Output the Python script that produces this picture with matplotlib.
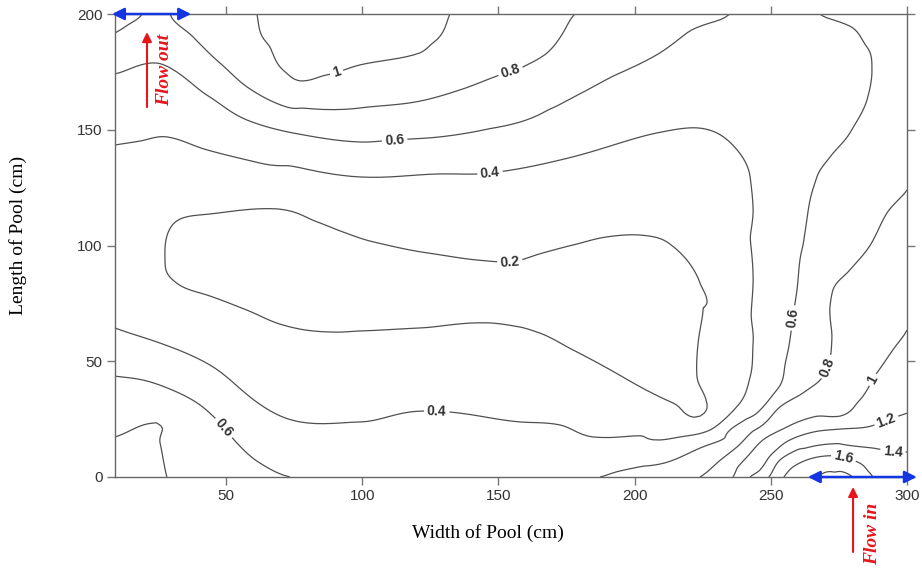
import numpy as np
import matplotlib
matplotlib.use("Agg")
import matplotlib.pyplot as plt
import matplotlib.tri as mtri

# ---------------- data ----------------
# isoline samples (x = width cm, y = length cm) for each velocity level
c02_x = [27.6, 28.7, 34.2, 44.1, 68.7, 73.5, 83.4, 93.0, 102.9, 123.8, 142.2, 154.2, 166.4, 177.4, 189.8,
         202.0, 211.9, 219.2, 224.0, 226.6, 225.1, 223.3, 222.9, 224.0, 214.1, 195.7, 177.4, 165.2, 157.9,
         148.0, 139.6, 121.2, 99.2, 90.7, 77.2, 68.7, 57.7, 44.1, 34.2, 29.4]
c02_y = [95.0, 105.4, 111.9, 113.6, 115.8, 114.9, 110.2, 105.8, 101.9, 96.8, 93.7, 92.9, 96.8, 100.2, 103.7,
         104.5, 101.5, 93.7, 83.8, 75.6, 72.1, 57.9, 43.2, 26.3, 32.0, 43.2, 54.9, 62.2, 64.8,
         66.5, 66.5, 64.4, 63.1, 62.6, 63.9, 66.5, 72.1, 78.2, 82.1, 86.4]

c04_x = [9.25, 18.4, 28.3, 43.0, 62.5, 99.2, 128.5, 146.9, 172.6, 189.8, 208.2, 220.3, 230.2, 237.6, 242.4,
         243.5, 243.5, 243.5, 242.4, 238.7, 231.4, 227.7, 216.7, 209.3, 184.7, 172.6, 157.9, 135.9, 127.4,
         117.5, 99.2, 77.2, 70.9, 58.8, 44.1, 25.7, 9.25]
c04_y = [143.4, 145.1, 146.9, 141.3, 135.6, 129.6, 130.9, 131.3, 136.9, 142.5, 148.6, 150.8, 148.6, 141.3, 129.6,
         115.3, 86.4, 57.9, 43.2, 32.0, 23.3, 20.3, 17.3, 16.0, 17.3, 22.5, 23.8, 27.6, 28.5,
         28.1, 23.8, 23.8, 25.9, 34.6, 48.4, 57.9, 64.4]

c06a_x = [9.25, 24.7, 32.0, 44.1, 57.7, 74.6, 99.2, 112.0, 128.5, 157.9, 184.7, 194.6, 206.7, 219.2, 235.0]
c06a_y = [174.1, 178.8, 174.9, 164.1, 154.2, 148.6, 144.7, 145.6, 146.9, 153.3, 168.5, 174.5, 181.4, 191.8, 200.0]
c06b_x = [267.9, 280.1, 285.3, 287.1, 285.3, 279.0, 271.7, 266.9, 264.4, 262.5, 261.4, 259.6, 258.1, 257.0,
          255.2, 252.2, 244.9, 235.0, 224.0, 209.3, 194.6, 187.3]
c06b_y = [200.0, 194.0, 185.7, 174.5, 162.9, 148.6, 138.2, 129.6, 119.7, 105.4, 98.1, 80.8, 68.7, 59.2,
          48.4, 37.6, 27.6, 20.3, 12.5, 5.6, 2.6, 0.0]
c06c_x = [9.25, 19.5, 32.0, 41.5, 47.8, 54.0, 62.5, 70.9, 73.5]
c06c_y = [43.6, 41.9, 36.7, 30.2, 23.3, 14.7, 6.0, 0.9, 0.0]

c08a_x = [9.25, 13.9, 19.2]
c08a_y = [191.8, 195.2, 200.0]
c08b_x = [29.5, 37.9, 47.8, 57.7, 72.3, 99.2, 117.5, 135.9, 150.6, 159.0, 167.9, 173.7, 178.1]
c08b_y = [200.0, 190.1, 178.8, 168.5, 159.8, 159.4, 161.6, 167.2, 173.7, 177.1, 183.2, 191.8, 200.0]
c08c_x = [300.0, 292.6, 285.3, 279.0, 272.8, 271.7, 272.4, 271.0, 268.1, 261.8, 253.3, 246.0, 237.6, 230.2, 224.0]
c08c_y = [124.0, 114.0, 98.1, 89.4, 80.8, 73.4, 59.2, 48.4, 41.9, 36.3, 30.2, 21.6, 13.0, 6.0, 0.0]
c08d_x = [9.25, 23.2, 24.7, 25.8, 28.3]
c08d_y = [17.3, 23.3, 23.3, 14.7, 0.0]

c10a_x = [61.3, 65.0, 70.9, 77.2, 87.1, 99.2, 121.2, 126.0, 132.2]
c10a_y = [200.0, 187.5, 175.8, 171.1, 173.7, 178.0, 183.2, 187.5, 200.0]
c10b_x = [300.0, 294.8, 288.9, 282.7, 275.4, 265.5, 255.9, 247.1, 241.2, 236.1]
c10b_y = [63.5, 54.9, 44.9, 33.3, 26.3, 25.9, 21.6, 16.0, 8.6, 0.0]

c12_x = [300.0, 292.6, 285.3, 275.4, 265.5, 257.0, 250.8, 246.0, 242.4]
c12_y = [27.6, 24.6, 21.6, 20.7, 19.4, 16.0, 10.4, 3.0, 0.0]
c14_x = [300.0, 294.8, 287.5, 277.9, 268.0, 259.6, 253.3, 249.3]
c14_y = [10.8, 10.8, 12.5, 13.8, 13.8, 11.7, 7.3, 0.0]
c16_x = [254.8, 258.1, 265.5, 274.3, 282.7, 286.4, 287.5]
c16_y = [0.0, 4.3, 8.2, 9.1, 6.0, 1.7, 0.0]
c18_x = [266.9, 270.6, 276.5, 280.1]
c18_y = [0.0, 2.2, 2.2, 0.0]

# values estimated at pool edges and between isolines
edge_x = [9.25, 24, 45, 97, 155, 206, 251, 284, 300,
          300, 300, 300, 300, 300,
          9.25, 18, 50, 100, 130, 160, 206, 230, 239, 246, 252, 261, 273.5, 284, 294,
          9.25, 9.25, 9.25, 9.25, 9.25, 9.25, 9.25, 9.25]
edge_y = [200, 200, 200, 200, 200, 200, 200, 200, 200,
          160, 95, 45, 19, 0,
          0, 0, 0, 0, 0, 0, 0, 0, 0, 0, 0, 0, 0, 0, 0,
          8, 30, 54, 80, 100, 120, 160, 183]
edge_v = [0.9, 0.7, 0.9, 1.1, 0.9, 0.7, 0.5, 0.7, 0.7,
          0.7, 0.9, 1.1, 1.3, 1.5,
          0.9, 0.9, 0.7, 0.5, 0.5, 0.5, 0.7, 0.9, 1.1, 1.3, 1.5, 1.7, 1.85, 1.7, 1.55,
          0.9, 0.7, 0.5, 0.3, 0.3, 0.3, 0.5, 0.7]

mid_x = [50, 90, 115, 135, 150, 170, 190, 205, 215, 218,
         50, 100, 150, 200, 226, 232, 234, 232, 30, 60, 100, 140, 175, 205,
         20, 60, 100, 150, 175, 205, 225, 248, 255, 253, 251, 249, 200, 40, 60, 85, 130, 165,
         22, 40, 60, 100, 140, 178, 205, 285, 275, 265, 263, 241.8, 22, 42,
         17, 45, 80, 110, 155, 290, 285, 274, 257, 236.5,
         274, 293, 260, 275, 292, 265, 285, 295, 273.5]
mid_y = [95, 85, 82, 80, 80, 80, 85, 85, 60, 40,
         127, 117, 113, 122, 125, 95, 65, 40, 68, 52, 43, 45, 38, 27,
         161, 146, 137, 142, 150, 164, 172, 185, 150, 110, 75, 45, 10, 41, 20, 10, 12, 12,
         190, 177, 160, 152, 158, 180, 190, 125, 100, 70, 45, 22, 31, 12,
         9, 192, 165, 171, 188, 85, 60, 38, 27.5, 8,
         23.5, 38, 14.4, 17.2, 17.6, 10.5, 8.1, 5, 5.6]
mid_v = [0.1] * 10 + [0.3] * 14 + [0.5] * 18 + [0.7] * 14 + [0.9] * 10 + \
        [1.1, 1.1, 1.3, 1.3, 1.3, 1.5, 1.5, 1.5, 1.7]

levels = [0.2, 0.4, 0.6, 0.8, 1.0, 1.2, 1.4, 1.6, 1.8]
label_levels = [0.2, 0.4, 0.6, 0.8, 1.0, 1.2, 1.4, 1.6]
label_pos = [(154.3, 175.8), (111.9, 145.6), (146.9, 131.7), (90.0, 177.0), (154.2, 92.9),
             (49.6, 21.6), (127.4, 28.5), (258.1, 68.7), (270.6, 47.5), (288.9, 41.0),
             (292.6, 23.8), (294.8, 10.8), (276.5, 7.3)]

x_ticks = [50, 100, 150, 200, 250, 300]
y_ticks = [0, 50, 100, 150, 200]

# ---------------- assemble samples ----------------
traces = [(0.2, c02_x, c02_y), (0.4, c04_x, c04_y),
          (0.6, c06a_x, c06a_y), (0.6, c06b_x, c06b_y), (0.6, c06c_x, c06c_y),
          (0.8, c08a_x, c08a_y), (0.8, c08b_x, c08b_y), (0.8, c08c_x, c08c_y), (0.8, c08d_x, c08d_y),
          (1.0, c10a_x, c10a_y), (1.0, c10b_x, c10b_y),
          (1.2, c12_x, c12_y), (1.4, c14_x, c14_y), (1.6, c16_x, c16_y), (1.8, c18_x, c18_y)]
X, Y, Z = [], [], []
for v, xs, ys in traces:
    X += list(xs); Y += list(ys); Z += [v] * len(xs)
X += edge_x + mid_x
Y += edge_y + mid_y
Z += edge_v + mid_v
X = np.array(X, float); Y = np.array(Y, float); Z = np.array(Z, float)

# ---------------- figure ----------------
fig = plt.figure(figsize=(9.22, 5.70), dpi=100)
ax = fig.add_axes([115 / 922, 1 - 477 / 570, (907 - 115) / 922, (477 - 14) / 570])

tri = mtri.Triangulation(X, Y)
interp = mtri.CubicTriInterpolator(tri, Z, kind='geom')
tri_r, z_r = mtri.UniformTriRefiner(tri).refine_field(Z, triinterpolator=interp, subdiv=3)
eps = 1e-4  # keep isolines off the exact sample values to avoid degenerate segments
cs = ax.tricontour(tri_r, z_r, levels=[l + eps for l in levels], colors='#505050', linewidths=0.9)
with plt.rc_context({'font.weight': 'bold', 'font.family': 'Liberation Sans'}):
    ax.clabel(cs, [l + eps for l in label_levels], manual=label_pos, inline=True, inline_spacing=3,
              fmt=lambda v: f"{round(v, 1):g}", fontsize=10, colors='#333333')

ax.set_xlim(9.25, 300)
ax.set_ylim(0, 200)
ax.set_xticks(x_ticks)
ax.set_yticks(y_ticks)
for lab in ax.get_xticklabels() + ax.get_yticklabels():
    lab.set_fontfamily('Liberation Sans')
ax.tick_params(direction='out', top=True, right=True, labeltop=False, labelright=False,
               length=6, width=1, color='#777777', labelsize=11, labelcolor='#333333', pad=3)
for s in ax.spines.values():
    s.set_color('#666666')
    s.set_linewidth(1.0)

# flow arrows
blue = '#1436e0'
ax.annotate('', xy=(8.15, 200), xytext=(37.2, 200),
            arrowprops=dict(arrowstyle='<|-|>', color=blue, lw=1.8, mutation_scale=18,
                            shrinkA=0, shrinkB=0), annotation_clip=False)
ax.annotate('', xy=(263.6, 0), xytext=(303.6, 0),
            arrowprops=dict(arrowstyle='<|-|>', color=blue, lw=1.8, mutation_scale=18,
                            shrinkA=0, shrinkB=0), annotation_clip=False)
red = '#e8141c'
ax.annotate('', xy=(21.0, 192.2), xytext=(21.0, 159.8),
            arrowprops=dict(arrowstyle='-|>', color=red, lw=1.5, mutation_scale=14,
                            shrinkA=0, shrinkB=0), annotation_clip=False)
ax.text(27.6, 175.8, 'Flow out', rotation=90, color=red, fontsize=14, fontstyle='italic',
        fontweight='bold', family='Liberation Serif', ha='center', va='center')
ax.annotate('', xy=(280.2, -4.3), xytext=(280.2, -32.4),
            arrowprops=dict(arrowstyle='-|>', color=red, lw=1.5, mutation_scale=14,
                            shrinkA=0, shrinkB=0), annotation_clip=False)
ax.text(287.5, -24.6, 'Flow in', rotation=90, color=red, fontsize=14, fontstyle='italic',
        fontweight='bold', family='Liberation Serif', ha='center', va='center')

fig.text(488 / 922, 1 - 533 / 570, 'Width of Pool (cm)', ha='center', va='center',
         family='Liberation Serif', fontsize=14)
fig.text(18 / 922, 1 - 235 / 570, 'Length of Pool (cm)', ha='center', va='center',
         rotation=90, family='Liberation Serif', fontsize=14)

fig.savefig('out.png', dpi=100)
